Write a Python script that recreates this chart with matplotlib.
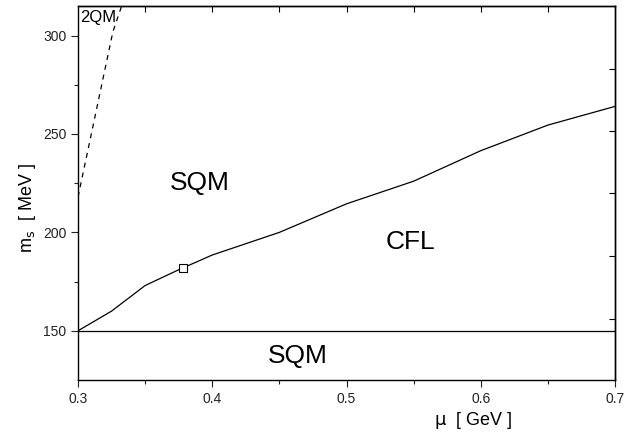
import matplotlib
matplotlib.use('Agg')
import matplotlib.pyplot as plt

plt.rcParams['font.family'] = ['Liberation Sans', 'DejaVu Sans']

# phase boundary CFL / SQM
mu_cfl = [0.3, 0.325, 0.35, 0.375, 0.4, 0.45, 0.5, 0.55, 0.6, 0.65, 0.7]
ms_cfl = [150, 160, 173, 181, 188.5, 200, 214.5, 226, 241.5, 254.5, 264]

# 2QM boundary (dashed)
mu_2qm = [0.3, 0.326, 0.336]
ms_2qm = [218, 302, 322]

# lower boundary
mu_low = [0.3, 0.7]
ms_low = [150, 150]

# marked point
mu_pt = [0.378]
ms_pt = [182]

right_ticks = [156.1, 188.0, 219.8, 251.5, 283.2]

fig = plt.figure(figsize=(6.38, 4.32), dpi=100)
ax = fig.add_axes([0.1223, 0.1204, 0.8417, 0.8657])

ax.plot(mu_cfl, ms_cfl, color='black', lw=0.9)
ax.plot(mu_2qm, ms_2qm, color='black', lw=0.9, ls=(0, (4, 4)))
ax.plot(mu_low, ms_low, color='black', lw=0.9)
ax.plot(mu_pt, ms_pt, ls='none', marker='s', ms=6, mfc='white', mec='black', mew=0.8)

ax.set_xlim(0.3, 0.7)
ax.set_ylim(125, 315)
ax.set_xticks([0.3, 0.4, 0.5, 0.6, 0.7])
ax.set_xticks([0.35, 0.45, 0.55, 0.65], minor=True)
ax.set_yticks([150, 200, 250, 300])
ax.set_yticks([175, 225, 275], minor=True)
ax.set_xticklabels(['0.3', '0.4', '0.5', '0.6', '0.7'])
ax.tick_params(which='both', direction='out', labelsize=10, colors='#222222', width=0.8)
ax.tick_params(which='major', length=5)
ax.tick_params(which='minor', length=3)

# top ticks (inward)
top = ax.secondary_xaxis('top')
top.set_xticks([0.35, 0.4, 0.45, 0.5, 0.55, 0.6, 0.65])
top.tick_params(direction='in', length=4, width=0.8, labeltop=False)

# right ticks (inward)
right = ax.secondary_yaxis('right')
right.set_yticks(right_ticks)
right.tick_params(direction='in', length=4, width=0.8, labelright=False)

for sp in list(ax.spines.values()) + [top.spines['top'], right.spines['right']]:
    sp.set_linewidth(1.0)

ax.text(0.3015, 309, '2QM', fontsize=12, va='center', ha='left')
ax.text(0.391, 225, 'SQM', fontsize=19, va='center', ha='center')
ax.text(0.5475, 195, 'CFL', fontsize=19, va='center', ha='center')
ax.text(0.464, 137.3, 'SQM', fontsize=19, va='center', ha='center')

ax.set_xlabel(r'$\mathrm{\mu}$  [ GeV ]', fontsize=13)
ax.xaxis.set_label_coords(0.735, -0.08)
ax.set_ylabel(r'm$_\mathrm{s}$  [ MeV ]', fontsize=13)
ax.yaxis.set_label_coords(-0.075, 0.46)

fig.savefig('out.png', dpi=100)
